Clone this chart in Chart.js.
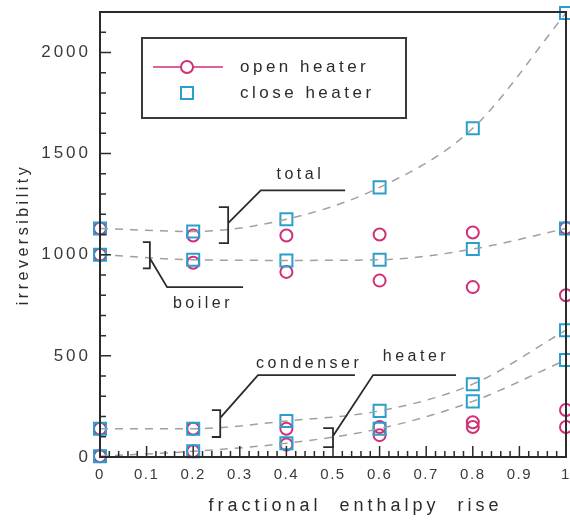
<!DOCTYPE html>
<html>
<head>
<meta charset="utf-8">
<script src="https://cdn.jsdelivr.net/npm/chart.js@4/dist/chart.umd.min.js"></script>
<style>
  html, body { margin: 0; padding: 0; background: #fff; }
  canvas { display: block; }
</style>
</head>
<body>
<canvas id="chart" width="570" height="521"></canvas>
<script>
// Fractional enthalpy rise at which each case was evaluated
const fractions = [0, 0.2, 0.4, 0.6, 0.8, 1];

// Open feedwater heater: irreversibility by component
const openTotal     = [1130, 1095, 1095, 1100, 1110, 1132];
const openBoiler    = [1000, 960, 915, 872, 840, 800];
const openCondenser = [140, 140, 140, 148, 172, 232];
const openHeater    = [4, 28, 62, 108, 148, 148];

// Closed feedwater heater: irreversibility by component
const closeTotal     = [1130, 1115, 1175, 1333, 1625, 2195];
const closeBoiler    = [1000, 975, 972, 975, 1028, 1130];
const closeCondenser = [140, 140, 178, 228, 360, 627];
const closeHeater    = [4, 28, 68, 140, 275, 480];

// Axis tick labels
const xTickValues = [0, 0.1, 0.2, 0.3, 0.4, 0.5, 0.6, 0.7, 0.8, 0.9, 1];
const yTickValues = [0, 500, 1000, 1500, 2000];

const seriesNames = ['open heater', 'close heater'];
const componentNames = ['total', 'boiler', 'condenser', 'heater'];

const OPEN_COLOR = '#d12f78';
const CLOSE_COLOR = '#2a9fcc';
const FIT_COLOR = '#a0a0a0';
const INK = '#2b2b2b';
const FONT = '"Liberation Sans", Arial, Helvetica, sans-serif';

const pts = (ys) => fractions.map((x, i) => ({ x, y: ys[i] }));

const fitCurve = (ys) => ({
  label: 'fit',
  data: pts(ys),
  showLine: true,
  borderColor: FIT_COLOR,
  borderWidth: 1.5,
  borderDash: [8, 7],
  cubicInterpolationMode: 'monotone',
  pointRadius: 0,
  pointHoverRadius: 0,
  fill: false
});

const closeMarks = (ys) => ({
  label: seriesNames[1],
  data: pts(ys),
  showLine: false,
  pointStyle: 'rect',
  pointRadius: 8.5,
  pointBorderWidth: 2,
  pointBorderColor: CLOSE_COLOR,
  pointBackgroundColor: 'rgba(255,255,255,0)'
});

const openMarks = (ys) => ({
  label: seriesNames[0],
  data: pts(ys),
  showLine: false,
  pointStyle: 'circle',
  pointRadius: 6,
  pointBorderWidth: 2,
  pointBorderColor: OPEN_COLOR,
  pointBackgroundColor: 'rgba(255,255,255,0)'
});

// Bracket call-outs naming each group of curves (data coordinates)
const callouts = [
  { text: componentNames[0], xl: 0.255, xr: 0.275, top: 1235, bot: 1057, from: 1156, kx: 0.345, ky: 1318, ex: 0.526, lx: 0.43, ly: 1398 },
  { text: componentNames[1], xl: 0.092, xr: 0.107, top: 1062, bot: 933, from: 983, kx: 0.144, ky: 840, ex: 0.307, lx: 0.221, ly: 756 },
  { text: componentNames[2], xl: 0.240, xr: 0.258, top: 232, bot: 99, from: 193, kx: 0.339, ky: 405, ex: 0.547, lx: 0.449, ly: 464 },
  { text: componentNames[3], xl: 0.479, xr: 0.500, top: 143, bot: 49, from: 104, kx: 0.586, ky: 405, ex: 0.764, lx: 0.678, ly: 494 }
];

// Letter spacing per piece of axis lettering
const axisSpacing = {
  x: { labels: '1.5px', title: '4px' },
  y: { labels: '3px', title: '3.5px' }
};

const withSpacing = (scale, method, spacing) => {
  const flag = '_spaced_' + method;
  if (scale[flag]) return;
  const original = scale[method];
  scale[method] = function (...args) {
    const c = this.ctx;
    const prev = c.letterSpacing;
    c.letterSpacing = spacing;
    const out = original.apply(this, args);
    c.letterSpacing = prev;
    return out;
  };
  scale[flag] = true;
};

const spacingPlugin = {
  id: 'spacing',
  beforeDraw(chart) {
    Object.keys(axisSpacing).forEach(id => {
      const s = chart.scales[id];
      if (!s) return;
      withSpacing(s, 'drawLabels', axisSpacing[id].labels);
      withSpacing(s, 'drawTitle', axisSpacing[id].title);
    });
  }
};

// Inward-pointing major/minor ticks and the boxed frame
const framePlugin = {
  id: 'frame',
  afterDatasetsDraw(chart) {
    const { ctx, chartArea: a, scales: { x, y } } = chart;
    ctx.save();
    ctx.strokeStyle = INK;
    ctx.lineWidth = 1.5;
    ctx.beginPath();
    for (let i = 0; i <= 50; i++) {
      const px = x.getPixelForValue(i / 50);
      const len = i % 5 === 0 ? 11 : 6;
      ctx.moveTo(px, a.bottom);
      ctx.lineTo(px, a.bottom - len);
    }
    for (let i = 0; i <= 22; i++) {
      const py = y.getPixelForValue(i * 100);
      const len = i % 5 === 0 ? 11 : 6;
      ctx.moveTo(a.left, py);
      ctx.lineTo(a.left + len, py);
    }
    ctx.stroke();
    ctx.lineWidth = 2;
    ctx.strokeRect(a.left, a.top, a.right - a.left, a.bottom - a.top);
    ctx.restore();
  }
};

// Bracket call-outs with leader lines and labels
const calloutPlugin = {
  id: 'callouts',
  afterDatasetsDraw(chart) {
    const { ctx, scales: { x, y } } = chart;
    ctx.save();
    ctx.strokeStyle = INK;
    ctx.lineWidth = 1.8;
    ctx.fillStyle = INK;
    ctx.font = '16px ' + FONT;
    ctx.letterSpacing = '3.5px';
    ctx.textAlign = 'center';
    ctx.textBaseline = 'middle';
    callouts.forEach(c => {
      const xl = x.getPixelForValue(c.xl), xr = x.getPixelForValue(c.xr);
      const yt = y.getPixelForValue(c.top), yb = y.getPixelForValue(c.bot);
      const yf = y.getPixelForValue(c.from);
      ctx.beginPath();
      ctx.moveTo(xl, yt);
      ctx.lineTo(xr, yt);
      ctx.lineTo(xr, yb);
      ctx.lineTo(xl, yb);
      ctx.moveTo(xr, yf);
      ctx.lineTo(x.getPixelForValue(c.kx), y.getPixelForValue(c.ky));
      ctx.lineTo(x.getPixelForValue(c.ex), y.getPixelForValue(c.ky));
      ctx.stroke();
      ctx.fillText(c.text, x.getPixelForValue(c.lx), y.getPixelForValue(c.ly));
    });
    ctx.restore();
  }
};

// Boxed legend inside the plot area
const legendPlugin = {
  id: 'boxLegend',
  afterDraw(chart) {
    const { ctx, chartArea: a } = chart;
    const bx = a.left + 42, by = a.top + 26, bw = 264, bh = 80;
    ctx.save();
    ctx.fillStyle = '#fff';
    ctx.fillRect(bx, by, bw, bh);
    ctx.strokeStyle = '#3a3a3a';
    ctx.lineWidth = 2;
    ctx.strokeRect(bx, by, bw, bh);

    const mx = bx + 45;
    const row1 = by + 29, row2 = by + 55;
    ctx.strokeStyle = OPEN_COLOR;
    ctx.lineWidth = 1.5;
    ctx.beginPath();
    ctx.moveTo(bx + 11, row1);
    ctx.lineTo(bx + 81, row1);
    ctx.stroke();
    ctx.lineWidth = 2;
    ctx.fillStyle = '#fff';
    ctx.beginPath();
    ctx.arc(mx, row1, 6, 0, Math.PI * 2);
    ctx.fill();
    ctx.stroke();
    ctx.strokeStyle = CLOSE_COLOR;
    ctx.strokeRect(mx - 6, row2 - 6, 12, 12);

    ctx.fillStyle = INK;
    ctx.font = '17px ' + FONT;
    ctx.letterSpacing = '3.5px';
    ctx.textAlign = 'left';
    ctx.textBaseline = 'middle';
    ctx.fillText(seriesNames[0], bx + 98, row1);
    ctx.fillText(seriesNames[1], bx + 98, row2);
    ctx.restore();
  }
};

new Chart(document.getElementById('chart'), {
  type: 'scatter',
  data: {
    datasets: [
      fitCurve(closeTotal), fitCurve(closeBoiler), fitCurve(closeCondenser), fitCurve(closeHeater),
      closeMarks(closeTotal), closeMarks(closeBoiler), closeMarks(closeCondenser), closeMarks(closeHeater),
      openMarks(openTotal), openMarks(openBoiler), openMarks(openCondenser), openMarks(openHeater)
    ]
  },
  options: {
    responsive: false,
    animation: false,
    events: [],
    clip: false,
    layout: { autoPadding: false, padding: { top: 12, right: 4, left: 0, bottom: 0 } },
    plugins: {
      legend: { display: false },
      tooltip: { enabled: false }
    },
    scales: {
      x: {
        type: 'linear',
        min: 0,
        max: 1,
        afterBuildTicks: (s) => { s.ticks = xTickValues.map(v => ({ value: v })); },
        afterFit: (s) => { s.height = 64; s.paddingLeft = 0; s.paddingRight = 0; },
        grid: { display: false, drawTicks: false },
        border: { display: false },
        ticks: {
          autoSkip: false,
          maxRotation: 0,
          padding: 9,
          color: '#3a3a3a',
          font: { family: FONT, size: 15 },
          callback: (v) => String(+v.toFixed(1))
        },
        title: {
          display: true,
          text: '     fractional  enthalpy  rise',
          color: INK,
          font: { family: FONT, size: 18 },
          padding: { top: 0, bottom: 4 }
        }
      },
      y: {
        type: 'linear',
        min: 0,
        max: 2200,
        afterBuildTicks: (s) => { s.ticks = yTickValues.map(v => ({ value: v })); },
        afterFit: (s) => { s.width = 100; s.paddingTop = 0; s.paddingBottom = 0; },
        grid: { display: false, drawTicks: false },
        border: { display: false },
        ticks: {
          padding: 9,
          color: '#3a3a3a',
          font: { family: FONT, size: 17 },
          callback: (v) => String(v)
        },
        title: {
          display: true,
          text: 'irreversibility',
          color: INK,
          font: { family: FONT, size: 16 },
          padding: { top: 14, bottom: 0 }
        }
      }
    }
  },
  plugins: [spacingPlugin, framePlugin, calloutPlugin, legendPlugin]
});
</script>
</body>
</html>
